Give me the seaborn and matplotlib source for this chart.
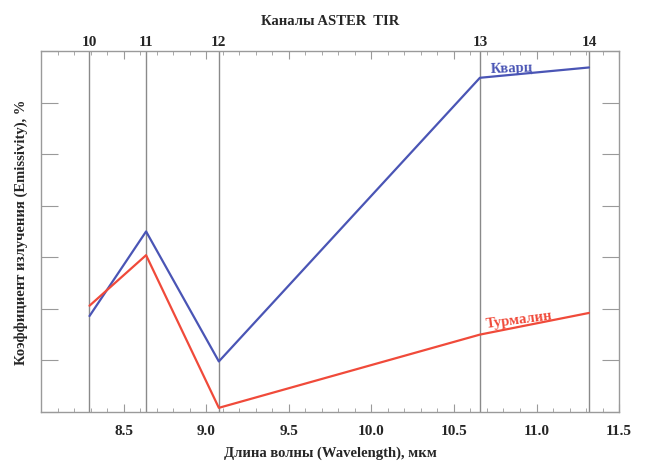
import numpy as np
import pandas as pd
import matplotlib
matplotlib.use("Agg")
import matplotlib.pyplot as plt
import seaborn as sns
from matplotlib.ticker import MultipleLocator

# ASTER TIR band centres (um) and emissivity
band_wl = [8.291, 8.634, 9.075, 10.657, 11.318]
band_names = ["10", "11", "12", "13", "14"]
quartz = [0.743, 0.825, 0.699, 0.974, 0.984]
tourmaline = [0.753, 0.802, 0.654, 0.725, 0.746]

df = pd.DataFrame({
    "wl": band_wl * 2,
    "emis": quartz + tourmaline,
    "mineral": ["Кварц"] * 5 + ["Турмалин"] * 5,
})

sns.set_style("white")
plt.rcParams["font.family"] = ["Liberation Serif", "DejaVu Serif"]
plt.rcParams["font.weight"] = "bold"

fig = plt.figure(figsize=(6.45, 4.64), dpi=100)
ax = fig.add_axes([0.0643, 0.110, 0.8954, 0.778])

grey = "#9a9a9a"
for wl in band_wl:
    ax.axvline(wl, color="#8a8a8a", lw=1.0, zorder=1)

sns.lineplot(data=df, x="wl", y="emis", hue="mineral",
             palette={"Кварц": "#4a55b5", "Турмалин": "#f04a3a"},
             lw=1.6, legend=False, ax=ax, zorder=3)

ax.set_xlim(8.0, 11.5)
ax.set_ylim(0.65, 1.0)
ax.xaxis.set_major_locator(MultipleLocator(0.5))
ax.xaxis.set_minor_locator(MultipleLocator(0.1))
ax.yaxis.set_major_locator(MultipleLocator(0.05))
ax.set_xticks(np.arange(8.5, 11.51, 0.5))
ax.set_xticklabels([f"{v:.1f}" for v in np.arange(8.5, 11.51, 0.5)],
                   fontsize=11, fontweight="bold")
ax.set_yticklabels([])
ax.tick_params(axis="both", which="both", direction="in", color=grey,
               top=True, right=True, bottom=True, left=True)
ax.tick_params(axis="x", which="major", length=6, pad=9)
ax.tick_params(axis="x", which="minor", length=3)
ax.tick_params(axis="y", which="major", length=12, labelleft=False)
for s in ax.spines.values():
    s.set_color(grey)
    s.set_linewidth(1.0)

ax.set_xlabel("Длина волны (Wavelength), мкм", fontsize=10.5,
              fontweight="bold", labelpad=6)
ax.set_ylabel("Коэффициент излучения (Emissivity), %", fontsize=10.5,
              fontweight="bold", labelpad=10)

sec = ax.secondary_xaxis("top")
sec.set_xticks(band_wl)
sec.set_xticklabels(band_names, fontsize=11, fontweight="bold")
sec.tick_params(length=0, pad=2)
sec.spines["top"].set_visible(False)
sec.set_xlabel("Каналы ASTER  TIR", fontsize=10.5, fontweight="bold",
               labelpad=8)

ax.text(10.72, 0.977, "Кварц", color="#4a55b5", fontsize=10.5,
        fontweight="bold", rotation=2, ha="left", va="bottom")
ax.text(10.69, 0.729, "Турмалин", color="#f04a3a", fontsize=10.5,
        fontweight="bold", rotation=7.5, ha="left", va="bottom")

fig.savefig("out.png", dpi=100)
